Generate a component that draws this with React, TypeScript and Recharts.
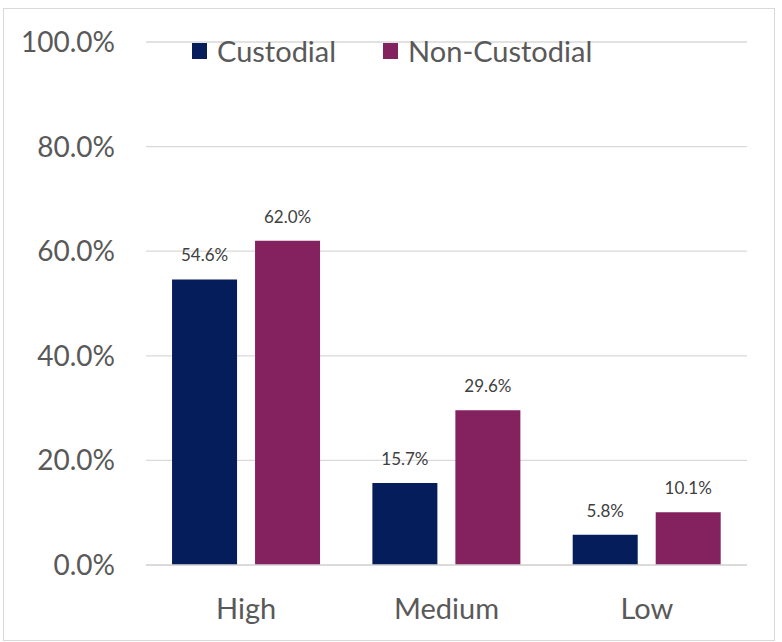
import React from 'react';
import { BarChart, Bar, XAxis, YAxis, CartesianGrid, Legend, LabelList } from 'recharts';

const categories = ['High', 'Medium', 'Low'];
const custodial = [54.6, 15.7, 5.8];
const nonCustodial = [62.0, 29.6, 10.1];
const yTicks = [0, 20, 40, 60, 80, 100];
const seriesNames = ['Custodial', 'Non-Custodial'];
const seriesColors = ['#061D5B', '#84215F'];

const data = categories.map((c, i) => ({ name: c, custodial: custodial[i], nonCustodial: nonCustodial[i] }));

const FONT = 'Lato, "Open Sans", sans-serif';

const LegendContent = () => (
  <div style={{ display: 'flex', alignItems: 'center', fontFamily: FONT, fontSize: 29, color: '#595959' }}>
    {seriesNames.map((n, i) => (
      <div key={n} style={{ display: 'flex', alignItems: 'center', marginRight: 47 }}>
        <div style={{ width: 15, height: 16, background: seriesColors[i], marginRight: 10 }} />
        <span>{n}</span>
      </div>
    ))}
  </div>
);

export default function App() {
  return (
    <div style={{ position: 'absolute', left: 0, top: 0, width: 782, height: 642, background: '#fff' }}>
      <div style={{ position: 'absolute', left: 3, top: 8, width: 770, height: 631, border: '1px solid #d9d9d9' }} />
      <div style={{ position: 'absolute', left: 0, top: 0 }}>
        <BarChart width={782} height={642} data={data} margin={{ top: 42, right: 35, bottom: 0, left: 0 }} barCategoryGap="13%" barGap={18}>
          <CartesianGrid vertical={false} stroke="#d9d9d9" strokeWidth={1.3} />
          <XAxis dataKey="name" height={77} tickLine={false} axisLine={{ stroke: '#d9d9d9', strokeWidth: 1.5 }} tickMargin={27}
            tick={{ fill: '#595959', fontSize: 29, fontFamily: FONT }} />
          <YAxis width={146} domain={[0, 100]} ticks={yTicks} axisLine={false} tickLine={false} tickSize={0} tickMargin={31}
            tickFormatter={(v: number) => v.toFixed(1) + '%'}
            tick={{ fill: '#595959', fontSize: 28, fontFamily: FONT }} />
          <Legend layout="horizontal" verticalAlign="middle" align="center" content={<LegendContent />}
            wrapperStyle={{ position: 'absolute', top: 33, left: 192, width: 'auto' }} />
          <Bar dataKey="custodial" name={seriesNames[0]} fill={seriesColors[0]} isAnimationActive={false}>
            <LabelList dataKey="custodial" position="top" offset={18} formatter={(v: number) => v.toFixed(1) + '%'}
              style={{ fill: '#404040', fontSize: 17, fontFamily: FONT }} />
          </Bar>
          <Bar dataKey="nonCustodial" name={seriesNames[1]} fill={seriesColors[1]} isAnimationActive={false}>
            <LabelList dataKey="nonCustodial" position="top" offset={18} formatter={(v: number) => v.toFixed(1) + '%'}
              style={{ fill: '#404040', fontSize: 17, fontFamily: FONT }} />
          </Bar>
        </BarChart>
      </div>
    </div>
  );
}
